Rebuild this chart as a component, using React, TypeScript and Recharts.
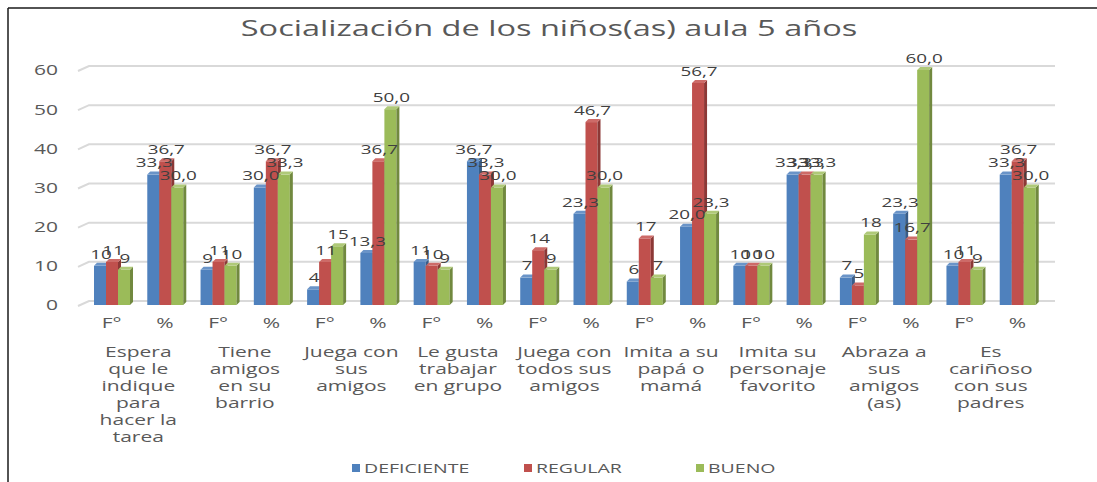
import { BarChart, Bar, XAxis, YAxis, CartesianGrid, LabelList } from 'recharts';

const groups = [
  'Espera\nque le\nindique\npara\nhacer la\ntarea',
  'Tiene\namigos\nen su\nbarrio',
  'Juega con\nsus\namigos',
  'Le gusta\ntrabajar\nen grupo',
  'Juega con\ntodos sus\namigos',
  'Imita a su\npapá o\nmamá',
  'Imita su\npersonaje\nfavorito',
  'Abraza a\nsus\namigos\n(as)',
  'Es\ncariñoso\ncon sus\npadres',
];
const subLabels = ['F°', '%'];
const deficiente = [10, 33.3, 9, 30.0, 4, 13.3, 11, 36.7, 7, 23.3, 6, 20.0, 10, 33.3, 7, 23.3, 10, 33.3];
const regular = [11, 36.7, 11, 36.7, 11, 36.7, 10, 33.3, 14, 46.7, 17, 56.7, 10, 33.3, 5, 16.7, 11, 36.7];
const bueno = [9, 30.0, 10, 33.3, 15, 50.0, 9, 30.0, 9, 30.0, 7, 23.3, 10, 33.3, 18, 60.0, 9, 30.0];
const yTicks = [0, 10, 20, 30, 40, 50, 60];

const series = [
  { key: 'deficiente', name: 'DEFICIENTE', color: '#4F81BD', side: '#385D8A', top: '#6A94C8' },
  { key: 'regular', name: 'REGULAR', color: '#C0504D', side: '#8C3836', top: '#CD6B68' },
  { key: 'bueno', name: 'BUENO', color: '#9BBB59', side: '#71893F', top: '#AFC978' },
];

const fmt = (v: number, i: number) => (i % 2 === 0 ? String(Math.round(v)) : v.toFixed(1).replace('.', ','));

const data = deficiente.map((_, i) => ({
  cat: subLabels[i % 2],
  deficiente: deficiente[i],
  regular: regular[i],
  bueno: bueno[i],
  deficienteLbl: fmt(deficiente[i], i),
  regularLbl: fmt(regular[i], i),
  buenoLbl: fmt(bueno[i], i),
}));

const W = 1097;
const H = 482;
const M = { top: 70, right: 53, left: 0, bottom: 27 };
const Y_W = 85;
const BAND = (W - M.right - M.left - Y_W) / data.length;
const SX = 1.5;
const FONT = '"Open Sans", sans-serif';

function Stretch({ x, y, anchor = 'middle', size = 14, fill = '#595959', sx = SX, children }: any) {
  return (
    <text
      transform={`translate(${x},${y}) scale(${sx},1)`}
      textAnchor={anchor}
      dominantBaseline="central"
      fontSize={size}
      fontFamily={FONT}
      fill={fill}
    >
      {children}
    </text>
  );
}

function Bar3D(props: any) {
  const { x, y, width, height, fill, side, top } = props;
  if (!height || height <= 0) return null;
  const d = 3;
  return (
    <g>
      <rect x={x} y={y} width={width} height={height} fill={fill} />
      <polygon points={`${x + width},${y} ${x + width + d},${y - d} ${x + width + d},${y + height - d} ${x + width},${y + height}`} fill={side} />
      <polygon points={`${x},${y} ${x + d},${y - d} ${x + width + d},${y - d} ${x + width},${y}`} fill={top} />
    </g>
  );
}

function GridLine(props: any) {
  const { x1, x2, y1 } = props;
  return (
    <path
      d={`M${x1 - 7},${y1 + 1} L${x1 + 4},${y1 - 4} L${x2 + 11},${y1 - 4}`}
      fill="none"
      stroke="#D9D9D9"
      strokeWidth={2}
    />
  );
}

function XTick(props: any) {
  const { x, y, index } = props;
  const lines = index % 2 === 0 ? groups[index / 2].split('\n') : [];
  return (
    <g>
      <Stretch x={x} y={y + 18}>{subLabels[index % 2]}</Stretch>
      {lines.map((l, i) => (
        <Stretch key={i} x={x + BAND / 2} y={y + 47 + i * 17}>{l}</Stretch>
      ))}
    </g>
  );
}

function YTick(props: any) {
  const { x, y, payload } = props;
  return <Stretch x={x} y={y} anchor="end">{payload.value}</Stretch>;
}

const valueLabel = (props: any) => {
  const vb = props.viewBox || props;
  const { x, y, width } = vb;
  return (
    <Stretch x={x + width / 2 + 1} y={y - 12} size={13} fill="#404040" sx={1.45}>
      {props.value}
    </Stretch>
  );
};

export default function App() {
  return (
    <div style={{ position: 'relative', width: W, height: H, background: '#fff' }}>
      <style>{'body{margin:0}'}</style>
      <BarChart width={W} height={H} data={data} margin={M} barGap={0}>
        <CartesianGrid vertical={false} horizontal={(p: any) => <GridLine key={p.key} {...p} />} />
        <YAxis
          domain={[0, 60]}
          ticks={yTicks}
          width={Y_W}
          axisLine={false}
          tickLine={false}
          tickSize={0}
          tickMargin={27}
          tick={<YTick />}
        />
        <XAxis
          dataKey="cat"
          height={150}
          axisLine={false}
          tickLine={false}
          tickSize={0}
          tickMargin={0}
          interval={0}
          tick={<XTick />}
        />
        {series.map((s) => (
          <Bar
            key={s.key}
            dataKey={s.key}
            name={s.name}
            fill={s.color}
            barSize={12}
            isAnimationActive={false}
            shape={(p: any) => <Bar3D {...p} fill={s.color} side={s.side} top={s.top} />}
          >
            <LabelList dataKey={`${s.key}Lbl`} content={valueLabel} />
          </Bar>
        ))}
      </BarChart>
      <svg width={W} height={H} style={{ position: 'absolute', left: 0, top: 0, pointerEvents: 'none' }}>
        <line x1={8} y1={8} x2={W} y2={8} stroke="#1A1A1A" strokeWidth={1.5} />
        <line x1={8} y1={8} x2={8} y2={H} stroke="#1A1A1A" strokeWidth={1.5} />
        <Stretch x={549} y={28} size={21} sx={1.55}>Socialización de los niños(as) aula 5 años</Stretch>
        {series.map((s, i) => (
          <g key={s.key}>
            <rect x={352 + i * 172} y={464} width={8} height={8} fill={s.color} />
            <Stretch x={364 + i * 172} y={468} size={13} anchor="start">{s.name}</Stretch>
          </g>
        ))}
      </svg>
    </div>
  );
}
